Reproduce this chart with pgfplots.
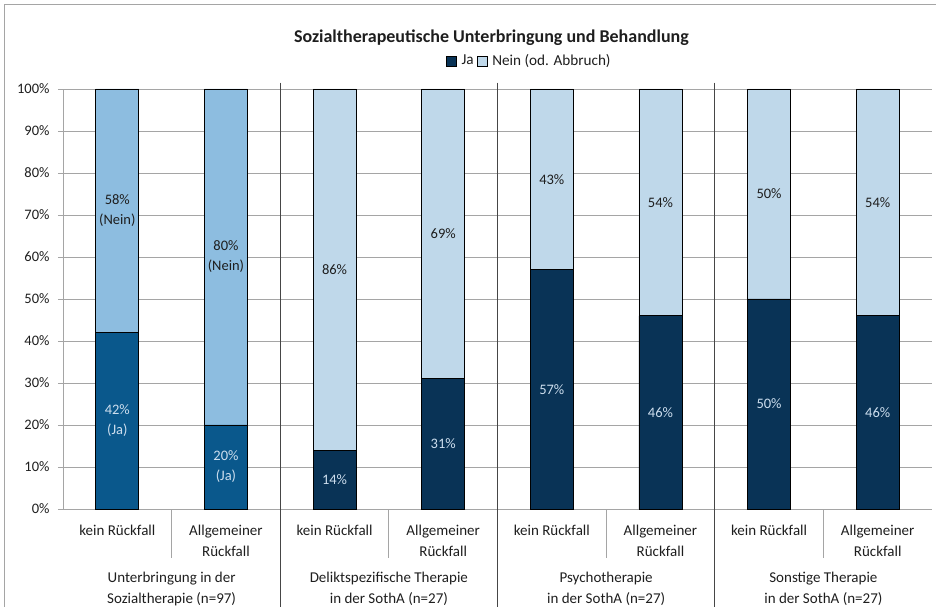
\documentclass[border=0pt]{standalone}
\usepackage{pgfplots}
\pgfplotsset{compat=1.18}
\usepackage{fontspec}
\setmainfont{Carlito}
\definecolor{jaA}{RGB}{10,88,140}
\definecolor{neinA}{RGB}{141,189,224}
\definecolor{jaB}{RGB}{9,51,86}
\definecolor{neinB}{RGB}{191,216,234}
\definecolor{gridc}{RGB}{165,165,165}
\definecolor{sepc}{RGB}{70,70,70}
\definecolor{lblL}{RGB}{205,222,238}
\definecolor{lblD}{RGB}{30,30,30}
\newcommand{\fs}{\fontsize{14.5}{20}\selectfont}
\begin{document}
\begin{tikzpicture}[x=1pt,y=1pt]
\useasboundingbox (0,0) rectangle (936,607);
\draw[gridc, line width=0.8pt] (4.5,0) -- (4.5,602.5) -- (936,602.5);
\begin{axis}[
  at={(63pt,98pt)}, anchor=south west, scale only axis,
  width=869pt, height=420pt,
  ybar stacked, bar width=43pt,
  xmin=-0.5, xmax=7.5, ymin=0, ymax=100,
  clip=false,
  axis x line*=bottom, axis y line*=left,
  axis line style={-, gridc, line width=0.8pt},
  ytick={0,10,...,100},
  yticklabel={\pgfmathprintnumber{\tick}\%},
  /pgf/number format/assume math mode=true,
  ymajorgrids, grid style={gridc, line width=0.8pt},
  tick align=outside, major tick length=5pt,
  y tick style={gridc, line width=0.8pt},
  x tick style={draw=none},
  yticklabel style={font=\fs, text=lblD, xshift=-5pt},
  xtick={0,...,7},
  xticklabels={kein Rückfall,{Allgemeiner\\Rückfall},kein Rückfall,{Allgemeiner\\Rückfall},kein Rückfall,{Allgemeiner\\Rückfall},kein Rückfall,{Allgemeiner\\Rückfall}},
  xticklabel style={font=\fontsize{15}{21}\selectfont, text=lblD, align=center, anchor=north, yshift=-8pt},
  extra x ticks={0.5,2.5,4.5,6.5},
  extra x tick labels={{Unterbringung in der\\Sozialtherapie (n=97)},{Deliktspezifische Therapie\\in der SothA (n=27)},{Psychotherapie\\in der SothA (n=27)},{Sonstige Therapie\\in der SothA (n=27)}},
  extra x tick style={grid=none, major tick length=0pt, xticklabel style={yshift=-52pt}},
  title={Sozialtherapeutische Unterbringung und Behandlung},
  title style={at={(0.493,1.109)}, anchor=center, font=\bfseries\fontsize{18}{21}\selectfont, text=lblD},
]
\addplot[fill=jaA, draw=black, line width=0.7pt] coordinates {(0,42) (1,20) (2,0) (3,0) (4,0) (5,0) (6,0) (7,0)};
\addplot[fill=jaB, draw=black, line width=0.7pt] coordinates {(0,0) (1,0) (2,14) (3,31) (4,57) (5,46) (6,50) (7,46)};
\addplot[fill=neinA, draw=black, line width=0.7pt] coordinates {(0,58) (1,80) (2,0) (3,0) (4,0) (5,0) (6,0) (7,0)};
\addplot[fill=neinB, draw=black, line width=0.7pt] coordinates {(0,0) (1,0) (2,86) (3,69) (4,43) (5,54) (6,50) (7,54)};
\draw[sepc, line width=0.8pt] (axis cs:1.5,101.5) -- (axis cs:1.5,-23.4);
\draw[sepc, line width=0.8pt] (axis cs:3.5,101.5) -- (axis cs:3.5,-23.4);
\draw[sepc, line width=0.8pt] (axis cs:5.5,101.5) -- (axis cs:5.5,-23.4);
\draw[gridc, line width=0.8pt] (axis cs:0.5,0) -- (axis cs:0.5,-11.7);
\draw[gridc, line width=0.8pt] (axis cs:2.5,0) -- (axis cs:2.5,-11.7);
\draw[gridc, line width=0.8pt] (axis cs:4.5,0) -- (axis cs:4.5,-11.7);
\draw[gridc, line width=0.8pt] (axis cs:6.5,0) -- (axis cs:6.5,-11.7);
\end{axis}
\begin{axis}[
  at={(63pt,98pt)}, anchor=south west, scale only axis,
  width=869pt, height=420pt,
  xmin=-0.5, xmax=7.5, ymin=0, ymax=100,
  axis lines=none, xtick=\empty, ytick=\empty, clip=false,
  legend style={at={(0.536,1.067)}, anchor=center, draw=none, fill=none,
    legend columns=2, font=\fontsize{15.2}{18}\selectfont, text=lblD,
    /tikz/every even column/.append style={column sep=2pt},
    /tikz/every odd column/.append style={column sep=4pt},
    inner sep=0pt, nodes={inner sep=1pt}},
  legend image code/.code={\filldraw[#1] (0pt,-5pt) rectangle (10pt,5pt);},
  nodes near coords, point meta=explicit symbolic,
  every node near coord/.append style={anchor=center, align=center, font=\fontsize{14.5}{20}\selectfont},
]
\addplot[forget plot, draw=none, mark=none, nodes near coords style={text=lblL}] coordinates {(0,21) [42\%\\(Ja)] (1,10) [20\%\\(Ja)] (2,7) [14\%] (3,15.5) [31\%] (4,28.5) [57\%] (5,23) [46\%] (6,25) [50\%] (7,23) [46\%]};
\addplot[forget plot, draw=none, mark=none, nodes near coords style={text=lblD}] coordinates {(0,71) [58\%\\(Nein)] (1,60) [80\%\\(Nein)] (2,57) [86\%] (3,65.5) [69\%] (4,78.5) [43\%] (5,73) [54\%] (6,75) [50\%] (7,73) [54\%]};
\addlegendimage{fill=jaB, draw=black, line width=0.6pt}
\addlegendentry{Ja}
\addlegendimage{fill=neinB, draw=black, line width=0.6pt}
\addlegendentry{Nein (od. Abbruch)}
\end{axis}
\end{tikzpicture}
\end{document}
